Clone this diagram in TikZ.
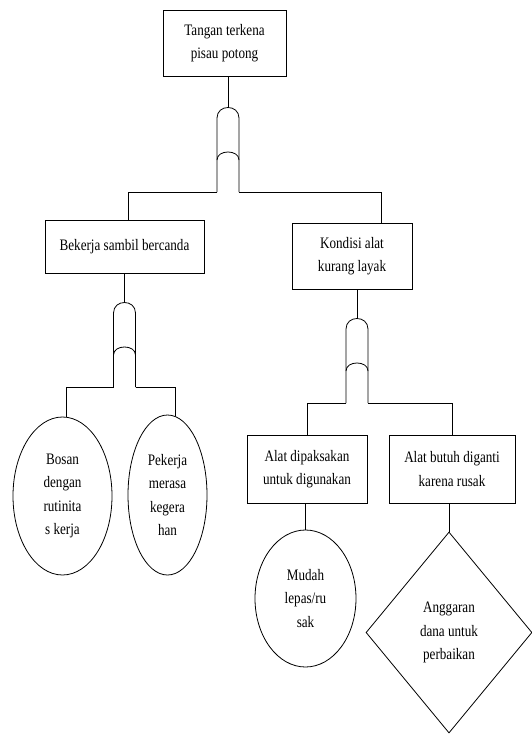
\documentclass[tikz,border=0pt]{standalone}
\usepackage{fontspec}
\setmainfont[FakeStretch=0.82]{Liberation Serif}
\usetikzlibrary{shapes.geometric}
\tikzset{
  base/.style={draw, line width=0.8pt, inner sep=0pt, align=center, font=\fontsize{16}{23.5}\selectfont},
  box/.style={base, rectangle},
  ell/.style={base, ellipse},
  dia/.style={base, diamond},
  conn/.style={line width=0.8pt},
  orgate/.pic={
    \draw[conn] (-11,0) -- (-11,-74) .. controls (-11,-88) and (11,-88) .. (11,-74) -- (11,0);
    \draw[conn] (-11,-32) .. controls (-11,-42.7) and (11,-42.7) .. (11,-32);
    \coordinate (-top) at (0,-84.5);
    \coordinate (-l) at (-11,0);
    \coordinate (-r) at (11,0);
  }
}
\begin{document}
\begin{tikzpicture}[x=1pt,y=-1pt]
\useasboundingbox (0,0) rectangle (532,734);
% level 0
\node[box, minimum width=123pt, minimum height=66pt] (top) at (224.5,43) {Tangan terkena\\pisau potong};
\pic (g1) at (228,192) {orgate};
\draw[conn] (top.south -| g1-top) -- (g1-top);
% level 1
\node[box, minimum width=159pt, minimum height=53pt] (bsb) at (124.5,246.5) {Bekerja sambil bercanda};
\node[box, minimum width=120pt, minimum height=66pt] (kal) at (352,256) {Kondisi alat\\kurang layak};
\draw[conn] (g1-l) -| ([xshift=3.5pt]bsb.north);
\draw[conn] (g1-r) -| ([xshift=29pt]kal.north);
% gates
\pic (g2) at (124.5,387) {orgate};
\draw[conn] (bsb.south) -- (g2-top);
\pic (g3) at (357,403) {orgate};
\draw[conn] (kal.south -| g3-top) -- (g3-top);
% left branch
\node[ell, minimum width=99pt, minimum height=158pt] (bos) at (62.5,496) {Bosan\\dengan\\rutinita\\s kerja};
\node[ell, minimum width=79pt, minimum height=160pt] (pek) at (167.5,495) {Pekerja\\merasa\\kegera\\han};
\draw[conn] (g2-l) -| (bos.87.5);
\draw[conn] (g2-r) -| (pek.84);
% right branch
\node[box, minimum width=120pt, minimum height=68pt] (adk) at (307,469) {Alat dipaksakan\\untuk digunakan};
\node[box, minimum width=126pt, minimum height=68pt] (abd) at (452,469) {Alat butuh diganti\\karena rusak};
\draw[conn] (g3-l) -| (adk.north);
\draw[conn] (g3-r) -| (abd.north);
\node[ell, minimum width=101pt, minimum height=137pt] (mud) at (305.5,598.5) {Mudah\\lepas/ru\\sak};
\draw[conn] (adk.south -| mud.north) -- (mud.north);
\node[dia, minimum width=166pt, minimum height=201pt] (ang) at (449,632.5) {Anggaran\\dana untuk\\perbaikan};
\draw[conn] (abd.south -| ang.north) -- (ang.north);
\end{tikzpicture}
\end{document}
